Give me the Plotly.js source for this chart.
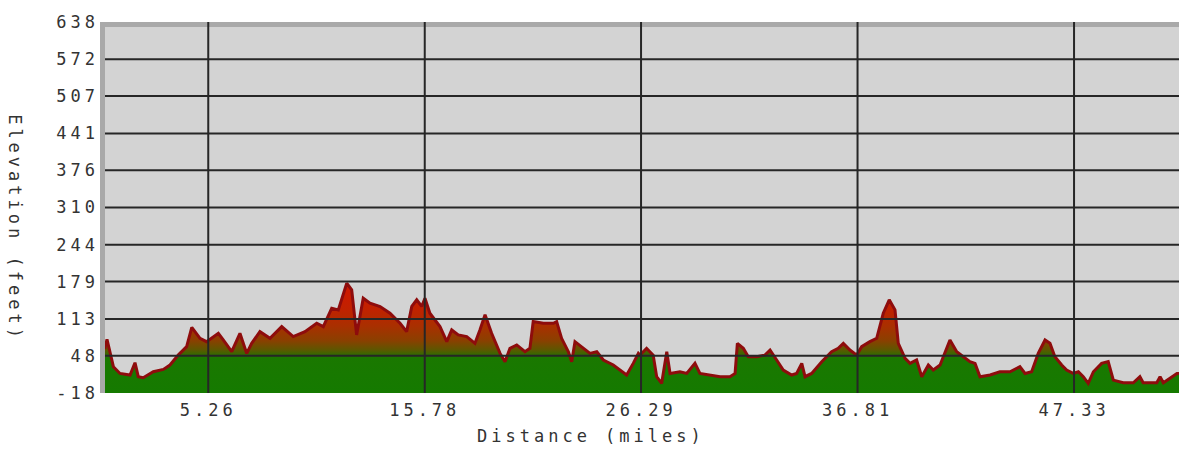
<!DOCTYPE html>
<html>
<head>
<meta charset="utf-8">
<script src="https://cdn.plot.ly/plotly-3.0.1.min.js"></script>
<style>
html, body { margin: 0; padding: 0; background: #fff; }
#chart { width: 1183px; height: 450px; }
#chart .xtick text, #chart .ytick text, #chart .annotation-text { letter-spacing: 4px; }
</style>
</head>
<body>
<div id="chart"></div>
<script>
// Distance along route (miles)
const distance = [
  0.00, 0.24, 0.34, 0.65, 0.97, 1.46, 1.70, 1.86, 2.10, 2.59, 3.08, 3.40, 3.80, 4.21, 4.46, 4.86,
  5.18, 5.75, 5.99, 6.40, 6.80, 7.13, 7.37, 7.77, 8.26, 8.83, 9.39, 9.96, 10.53, 10.85, 11.26,
  11.58, 11.99, 12.23, 12.47, 12.79, 13.12,
  13.61, 14.09, 14.58, 14.90, 15.15, 15.39, 15.63, 15.79, 16.03, 16.52, 16.85, 17.09, 17.41,
  17.82, 18.22, 18.46, 18.71, 19.03, 19.44, 19.68, 19.92, 20.25, 20.65, 20.89, 21.05, 21.54,
  22.03, 22.19, 22.43, 22.76, 22.92, 23.08, 23.48, 23.81, 24.14, 24.46, 24.94, 25.27, 25.59,
  25.91, 26.16,
  26.24, 26.56, 26.88, 27.05, 27.29, 27.54, 27.70, 28.18, 28.51, 28.91, 29.15, 29.64, 30.13,
  30.61, 30.86, 30.97, 31.26, 31.50, 31.91, 32.31, 32.56, 32.88, 33.20, 33.61, 33.85, 34.10,
  34.26, 34.58, 35.07, 35.55, 35.87, 36.12, 36.44, 36.77, 37.01, 37.41, 37.74, 38.06, 38.35,
  38.63, 38.79, 39.12, 39.36,
  39.68, 39.93, 40.25, 40.49, 40.82, 41.06, 41.30, 41.63, 41.95, 42.27, 42.52, 42.76, 43.25,
  43.73, 44.22, 44.70, 44.95, 45.27, 45.59, 45.92, 46.16, 46.40, 46.73, 46.97, 47.29, 47.54,
  47.78, 48.02, 48.27, 48.67, 48.99, 49.24, 49.72, 50.21, 50.53, 50.69, 51.35, 51.51, 51.67,
  52.00, 52.33, 52.43
];
// Elevation (feet)
const elevation = [
  60, 62, 77, 28.5, 16.6, 13.8, 35.6, 10.8, 9, 19.6, 23.7, 31.5, 49, 64, 98, 78.7,
  72.8, 87.5, 75.8, 55, 87.5, 52, 69.8, 90.5, 78.7, 99.4, 81.7, 90.5, 105.3, 99.4, 131.9,
  129, 176, 164.5, 84.7, 149.6, 140.7,
  134.9, 123, 105.3, 90.5, 135, 146.8, 135, 149.6, 123, 99.4, 72.8, 93.5, 84.7,
  81.7, 69.8, 93.5, 120.2, 87.5, 52, 37.4, 61, 67, 55, 61, 108.3, 105.3,
  105.3, 108.3, 78.7, 55, 37.4, 72.8, 61, 52, 55, 40.4, 31.5, 22.6, 13.8,
  34.4, 52,
  49, 61, 49, 10.8, -1, 55, 16.6, 19.6, 16.6, 34.4, 16.6, 13.8, 10.8,
  10.8, 16.6, 69.8, 61, 46.2, 46.2, 49, 58, 40.4, 22.6, 13.8, 16.6, 34.4,
  10.8, 16.6, 37.4, 55, 61, 69.8, 58, 49, 64, 72.8, 78.7, 123, 146.8,
  129, 69.8, 43.2, 34.4,
  40.4, 10.8, 31.5, 22.6, 31.5, 55, 75.8, 55, 46.2, 37.4, 34.4, 10.8, 13.8,
  19.6, 19.6, 28.5, 16.6, 19.6, 52, 75.8, 69.8, 46.2, 31.5, 22.6, 16.6, 19.6,
  10.8, -1, 19.6, 34.4, 37.4, 4.8, 0, 0, 10.8, 0, 0, 10.8, 0,
  7.7, 16.6, 16.6
];

const xTicks = [5.26, 15.78, 26.29, 36.81, 47.33];
const xTickLabels = ['5.26', '15.78', '26.29', '36.81', '47.33'];
const yTicks = [-18, 48, 113, 179, 244, 310, 376, 441, 507, 572, 638];
const yTickLabels = ['-18', '48', '113', '179', '244', '310', '376', '441', '507', '572', '638'];

const xMax = distance[distance.length - 1];
const yMin = yTicks[0];
const yMax = yTicks[yTicks.length - 1];

const font = { family: 'DejaVu Sans Mono, monospace', size: 17, color: '#333' };
const gridColor = '#262626';
const frameColor = '#a9a9a9';

const baseline = {
  x: [distance[0], xMax],
  y: [yMin, yMin],
  mode: 'lines',
  line: { width: 0 },
  hoverinfo: 'skip',
  showlegend: false
};

const profile = {
  x: distance,
  y: elevation,
  mode: 'lines',
  fill: 'tonexty',
  fillgradient: {
    type: 'vertical',
    start: yMin,
    stop: 160,
    colorscale: [
      [0, '#157a00'],
      [0.35, '#1a7800'],
      [0.43, '#5e5600'],
      [0.52, '#8a4000'],
      [0.66, '#a83000'],
      [0.83, '#c02200'],
      [1, '#cc1a00']
    ]
  },
  line: { color: '#8e0c0c', width: 3 },
  showlegend: false
};

const shapes = [];
// horizontal grid lines (interior ticks)
yTicks.slice(1, -1).forEach(v => shapes.push({
  type: 'line', xref: 'paper', yref: 'y', x0: 0, x1: 1, y0: v, y1: v,
  line: { color: gridColor, width: 2 }, layer: 'above'
}));
// frame: left and top bands
shapes.push({
  type: 'rect', xref: 'paper', yref: 'paper', x0: 0, x1: 5 / 1079, y0: 0, y1: 1,
  fillcolor: frameColor, line: { width: 0 }, layer: 'above'
});
shapes.push({
  type: 'rect', xref: 'paper', yref: 'paper', x0: 0, x1: 1, y0: 1 - 5 / 371, y1: 1,
  fillcolor: frameColor, line: { width: 0 }, layer: 'above'
});
// vertical grid lines
xTicks.forEach(v => shapes.push({
  type: 'line', xref: 'x', yref: 'paper', x0: v, x1: v, y0: 0, y1: 1,
  line: { color: gridColor, width: 2 }, layer: 'above'
}));

const layout = {
  width: 1183,
  height: 450,
  margin: { l: 100, r: 4, t: 22, b: 57 },
  paper_bgcolor: '#ffffff',
  plot_bgcolor: '#d3d3d3',
  showlegend: false,
  font: font,
  xaxis: {
    range: [0, xMax],
    tickmode: 'array',
    tickvals: xTicks,
    ticktext: xTickLabels,
    showgrid: false,
    zeroline: false,
    showline: false,
    ticks: '',
    ticklabelstandoff: 5,
    tickfont: font,
    fixedrange: true
  },
  yaxis: {
    range: [yMin, yMax],
    tickmode: 'array',
    tickvals: yTicks,
    ticktext: yTickLabels,
    showgrid: false,
    zeroline: false,
    showline: false,
    ticks: '',
    ticklabelstandoff: 0,
    tickfont: font,
    fixedrange: true
  },
  shapes: shapes,
  annotations: [
    {
      text: 'Distance (miles)',
      xref: 'paper', yref: 'paper',
      x: 0.455, y: -0.115,
      xanchor: 'center', yanchor: 'middle',
      showarrow: false,
      font: font
    },
    {
      text: 'Elevation (feet)',
      xref: 'paper', yref: 'paper',
      x: -0.079, y: 0.445,
      xanchor: 'center', yanchor: 'middle',
      textangle: 90,
      showarrow: false,
      font: font
    }
  ]
};

Plotly.newPlot('chart', [baseline, profile], layout, { displayModeBar: false, staticPlot: true });
</script>
</body>
</html>
